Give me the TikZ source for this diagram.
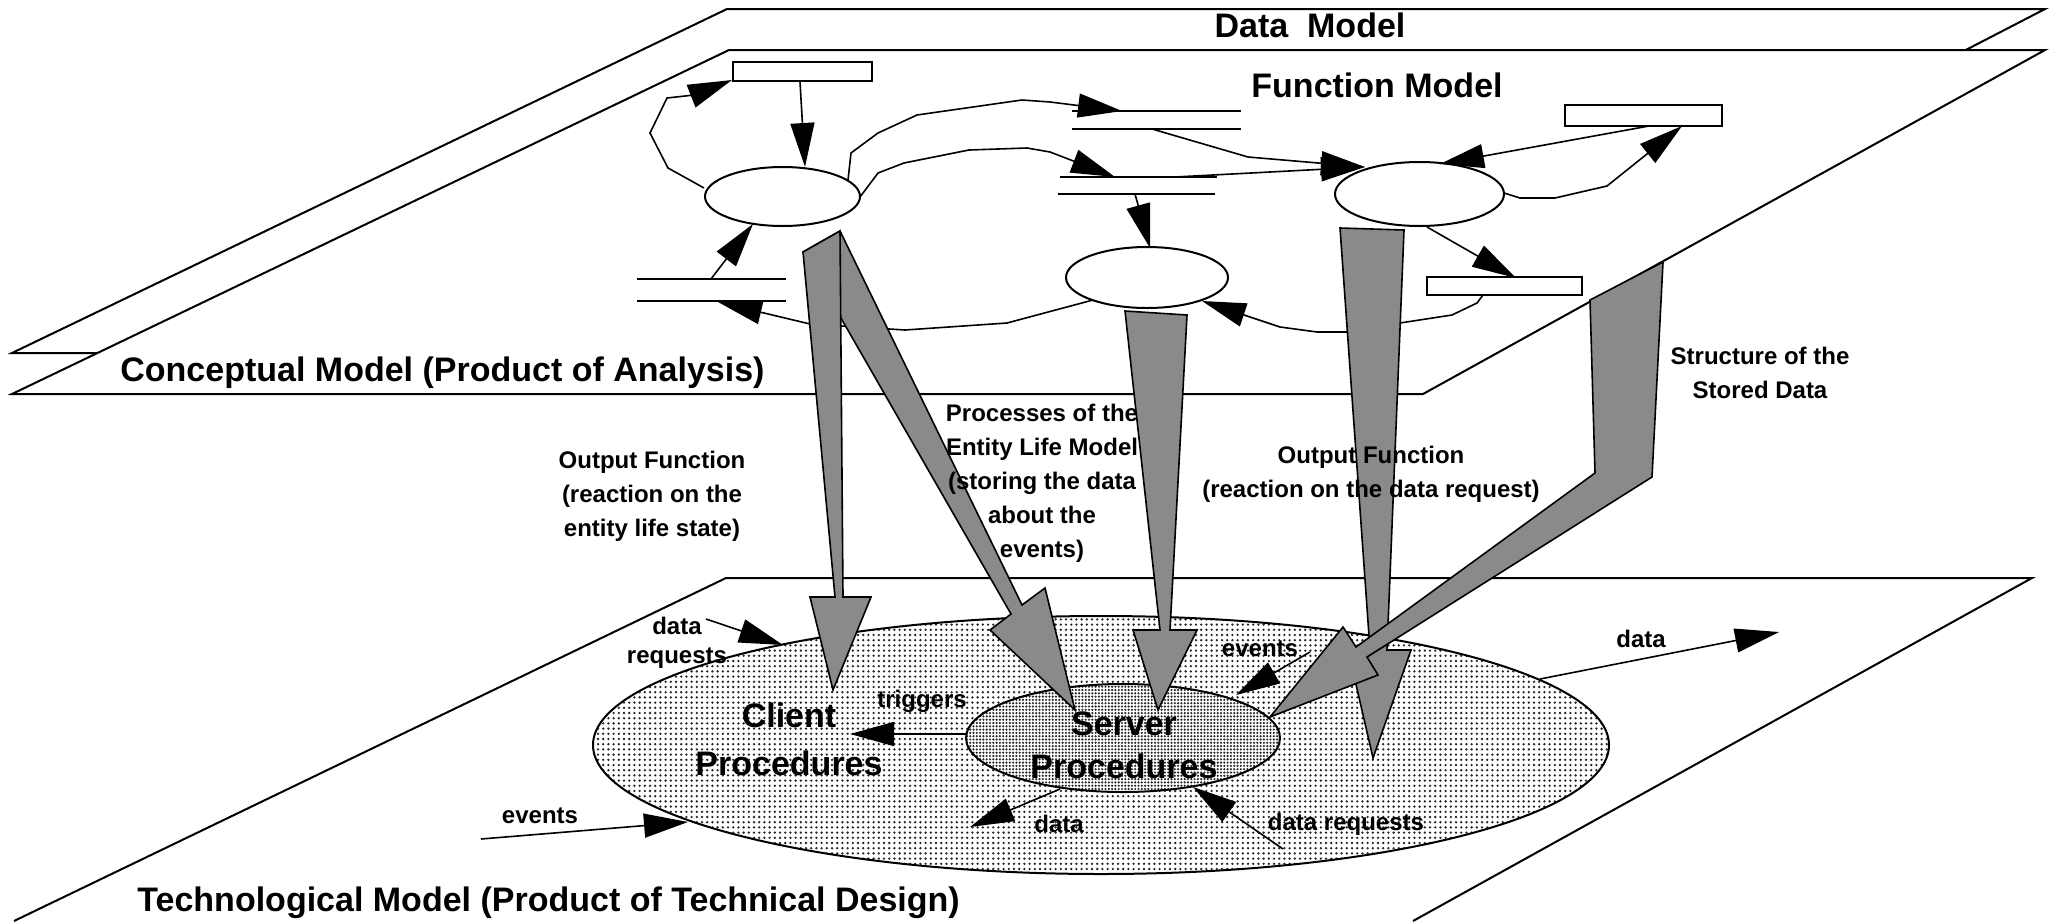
\documentclass[tikz,border=0pt]{standalone}
\usepackage{fontspec}
\setmainfont{Liberation Sans}
\usetikzlibrary{arrows.meta,shapes.geometric,patterns}

% dot screens for the two procedure areas
\pgfdeclarepatternformonly{sparsedots}{\pgfqpoint{-1pt}{-1pt}}{\pgfqpoint{1pt}{1pt}}{\pgfqpoint{2.6pt}{2.6pt}}{%
  \pgfpathcircle{\pgfqpoint{0pt}{0pt}}{0.65pt}\pgfusepath{fill}}
\pgfdeclarepatternformonly{densedots}{\pgfqpoint{-1pt}{-1pt}}{\pgfqpoint{1pt}{1pt}}{\pgfqpoint{1.65pt}{1.65pt}}{%
  \pgfpathcircle{\pgfqpoint{0pt}{0pt}}{0.6pt}\pgfusepath{fill}}

\begin{document}
\begin{tikzpicture}[x=0.5pt,y=-0.5pt,
  plane/.style={draw=black,line width=1pt,fill=white,line join=miter},
  proc/.style={ellipse,draw,line width=1pt,fill=white,inner sep=0pt},
  ent/.style={rectangle,draw,line width=1pt,fill=white,inner sep=0pt},
  storeline/.style={line width=1.2pt},
  flow/.style={line width=0.8pt,-{Triangle[length=22pt,width=12pt]}},
  blk/.style={draw,line width=0.8pt,fill=black!46,line join=miter},
  big/.style={font=\fontsize{17}{24}\selectfont\bfseries,inner sep=0pt},
  small/.style={font=\fontsize{12}{17}\selectfont\bfseries,align=center,inner sep=0pt},
]
\useasboundingbox (0,0) rectangle (2054,921);

% ---------- the three model planes ----------
\draw[plane] (727,9) -- (2045,9) -- (1380,353) -- (12,353) -- cycle;
\draw[plane] (729,50) -- (2045,50) -- (1423,394) -- (12,394) -- cycle;
\draw[plane] (14,921) -- (726,578) -- (2032,578) -- (1413,921);

% ---------- function model: processes, entities, stores ----------
\node[ent,minimum width=69.5pt,minimum height=9.5pt] (r1) at (802.5,71.5) {};
\node[ent,minimum width=78.5pt,minimum height=10.5pt] (r3) at (1643.5,115.5) {};
\node[ent,minimum width=77.5pt,minimum height=9pt] (r4) at (1504.5,286) {};
\node[proc,minimum width=77.5pt,minimum height=29.5pt] (p1) at (782.5,196.5) {};
\node[proc,minimum width=81pt,minimum height=30.5pt] (p2) at (1147,277.5) {};
\node[proc,minimum width=84.5pt,minimum height=32pt] (p3) at (1419.5,194) {};

\coordinate (sa1) at (637,279);  \coordinate (sa2) at (786,279);
\coordinate (sa3) at (637,301);  \coordinate (sa4) at (786,301);
\coordinate (sb1) at (1072,111); \coordinate (sb2) at (1241,111);
\coordinate (sb3) at (1072,129); \coordinate (sb4) at (1241,129);
\coordinate (sc1) at (1060,177); \coordinate (sc2) at (1217,177);
\coordinate (sc3) at (1058,194); \coordinate (sc4) at (1215,194);
\draw[storeline] (sa1) -- (sa2) (sa3) -- (sa4);
\draw[storeline] (sb1) -- (sb2) (sb3) -- (sb4);
\draw[storeline] (sc1) -- (sc2) (sc3) -- (sc4);

% connector end points
\coordinate (r1out) at (800,82);    \coordinate (p1in) at (805,167);
\coordinate (p1w)   at (704,188);   \coordinate (r1in) at (732,80);
\coordinate (p1ne)  at (848,180);   \coordinate (sbin) at (1122,111);
\coordinate (p1e)   at (860,197);   \coordinate (scin) at (1115,177);
\coordinate (sbout) at (1152,129);  \coordinate (scout) at (1175,177);
\coordinate (p3nw)  at (1365,167);
\coordinate (r3out) at (1649,126);  \coordinate (p3ne) at (1440,164);
\coordinate (p3e)   at (1504,193);  \coordinate (r3in) at (1682,126);
\coordinate (p3s)   at (1427,227);  \coordinate (r4in) at (1516,278);
\coordinate (scdn)  at (1135,194);  \coordinate (p2n) at (1150,248);
\coordinate (r4out) at (1483,295);  \coordinate (p2se) at (1202,301);
\coordinate (p2sw)  at (1093,300);  \coordinate (sain) at (718,302);
\coordinate (saout) at (711,279);   \coordinate (p1s) at (753,224);

\draw[flow] (r1out) -- (p1in);
\draw[flow] (p1w) -- (668,168) -- (650,133) -- (667,98) -- (694,95) -- (r1in);
\draw[flow] (p1ne) -- (851,153) -- (878,133) -- (917,115) -- (1022,100) -- (1050,102) -- (sbin);
\draw[flow] (p1e) -- (878,173) -- (904,163) -- (969,150) -- (1027,148) -- (1050,152) -- (scin);
\draw[flow] (sbout) -- (1248,157) -- (p3nw);
\draw[flow] (scout) -- (p3nw);
\draw[flow] (r3out) -- (p3ne);
\draw[flow] (p3e) -- (1520,198) -- (1555,198) -- (1607,186) -- (r3in);
\draw[flow] (p3s) -- (r4in);
\draw[flow] (scdn) -- (p2n);
\draw[flow] (r4out) -- (1477,303) -- (1452,315) -- (1400,323) -- (1348,332) -- (1317,332) -- (1280,327) -- (p2se);
\draw[flow] (p2sw) -- (1007,323) -- (905,330) -- (810,324) -- (sain);
\draw[flow] (saout) -- (p1s);

% ---------- technological model: procedures ----------
\node[ellipse,draw,line width=1pt,inner sep=0pt,pattern=sparsedots,pattern color=black!85,
      minimum width=508pt,minimum height=129pt] (client) at (1101,745) {};
\node[ellipse,draw,line width=1pt,inner sep=0pt,preaction={fill=white},pattern=densedots,pattern color=black!85,
      minimum width=157pt,minimum height=54pt] (server) at (1123,738) {};

\coordinate (drq1) at (706,619);  \coordinate (cl1) at (783,645);
\coordinate (ev1)  at (481,839);  \coordinate (cl2) at (688,822);
\coordinate (sv1)  at (967,734);  \coordinate (cl3) at (850,734);
\coordinate (ev2)  at (1310,652); \coordinate (sv2) at (1236,695);
\coordinate (sv3)  at (1060,789); \coordinate (da1) at (970,827);
\coordinate (drq2) at (1283,849); \coordinate (sv4) at (1193,787);
\coordinate (cl4)  at (1540,679); \coordinate (da2) at (1779,632);

\draw[flow] (drq1) -- (cl1);
\draw[flow] (ev1) -- (cl2);
\draw[flow] (sv1) -- (cl3);
\draw[flow] (ev2) -- (sv2);
\draw[flow] (sv3) -- (da1);
\draw[flow] (drq2) -- (sv4);
\draw[flow] (cl4) -- (da2);

% ---------- block arrows between the models ----------
\draw[blk] (803,252) -- (840,231) -- (1022,605) -- (1045,588) -- (1075,710) -- (990,630) -- (1011,614) -- cycle;
\draw[blk] (803,252) -- (840,231) -- (843,597) -- (871,597) -- (833,690) -- (810,597) -- (835,597) -- cycle;
\draw[blk] (1125,311) -- (1187,315) -- (1170,630) -- (1197,630) -- (1158,710) -- (1133,630) -- (1160,630) -- cycle;
\draw[blk] (1340,228) -- (1404,230) -- (1387,650) -- (1411,650) -- (1373,758) -- (1348,650) -- (1370,650) -- cycle;
\draw[blk] (1590,300) -- (1663,262) -- (1652,477) -- (1367,657) -- (1378,675) -- (1270,717) -- (1343,627) -- (1356,647) -- (1595,473) -- cycle;

% ---------- labels (multi-line nodes sit on their last baseline) ----------
\node[big,anchor=base] (tdm) at (1310,37) {Data\ \ Model};
\node[big,anchor=base] (tfm) at (1377,97) {Function Model};
\node[big,anchor=base west] (tcm) at (120,381) {Conceptual Model (Product of Analysis)};
\node[big,anchor=base west] (ttm) at (137,911) {Technological Model (Product of Technical Design)};
\node[big,anchor=base,align=center] (tcl) at (789,775) {Client\\Procedures};
\node[big,anchor=base,align=center,font=\fontsize{17}{21.5}\selectfont\bfseries] (tsv) at (1124,778) {Server\\Procedures};

\node[small,anchor=base] (lof) at (652,536) {Output Function\\(reaction on the\\entity life state)};
\node[small,anchor=base] (lpr) at (1042,557) {Processes of the\\Entity Life Model\\(storing the data\\about the\\events)};
\node[small,anchor=base] (lor) at (1371,497) {Output Function\\(reaction on the data request)};
\node[small,anchor=base] (lst) at (1760,398) {Structure of the\\Stored Data};
\node[small,anchor=base,font=\fontsize{12}{14.5}\selectfont\bfseries] (ldq) at (677,663) {data\\requests};
\node[small,anchor=base] (ltr) at (922,707) {triggers};
\node[small,anchor=base] (lev) at (540,823) {events};
\node[small,anchor=base] (lei) at (1260,656) {events};
\node[small,anchor=base] (lda) at (1059,832) {data};
\node[small,anchor=base] (ldr) at (1346,830) {data requests};
\node[small,anchor=base] (ldo) at (1641,647) {data};
\end{tikzpicture}
\end{document}
